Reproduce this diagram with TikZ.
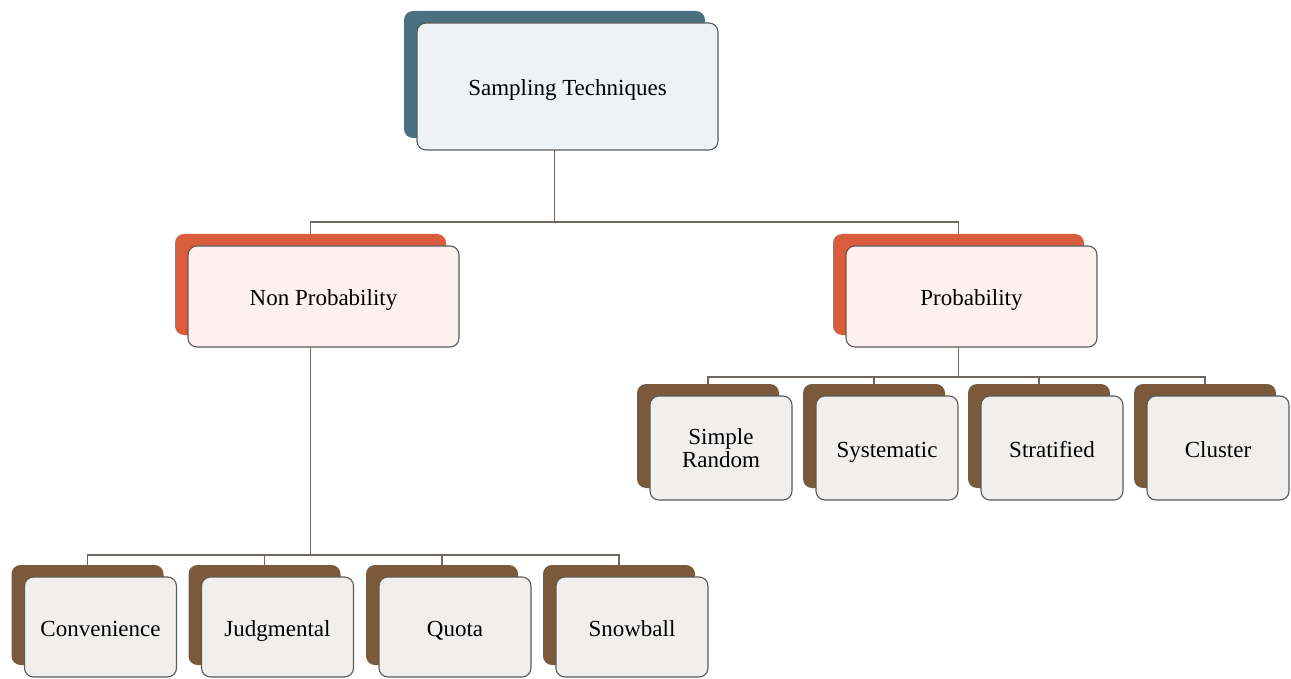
\documentclass[tikz,border=0pt]{standalone}
\usepackage{fontspec}
\setmainfont{Liberation Serif}
\definecolor{blueback}{HTML}{4B7082}
\definecolor{blueface}{HTML}{EEF2F5}
\definecolor{redback}{HTML}{D95C3D}
\definecolor{redface}{HTML}{FCF1F0}
\definecolor{brownback}{HTML}{7A5A3A}
\definecolor{brownface}{HTML}{F0EFEE}
\definecolor{bordergray}{HTML}{5A5A5A}
\definecolor{conncol}{HTML}{6E6863}
\newcommand\twobox[9][]{%
  \node[backbox, fill=#7, minimum width=#5pt, minimum height=#6pt] (#2b) at ({#3-13},{#4-12}) {};
  \node[facebox, fill=#8, minimum width=#5pt, minimum height=#6pt, #1] (#2) at (#3,#4) {#9};
}
\begin{document}
\begin{tikzpicture}[x=1pt,y=-1pt,
  backbox/.style={rectangle, rounded corners=9pt, inner sep=0pt, outer sep=0pt, draw=none},
  facebox/.style={rectangle, rounded corners=9pt, inner sep=0pt, outer sep=0pt, draw=bordergray, line width=1.1pt, align=center, font=\fontsize{23}{23}\selectfont, text height=22pt, text depth=4pt},
  twoline/.style={text height=, text depth=},
  conn/.style={draw=conncol, line width=1.5pt}]
\useasboundingbox (0,0) rectangle (1291,679);
% top
\twobox{top}{567.5}{86.5}{301}{127}{blueback}{blueface}{Sampling Techniques}
% level 2
\twobox{np}{323.5}{296.5}{271}{101}{redback}{redface}{Non Probability}
\twobox{pr}{971.5}{296.5}{251}{101}{redback}{redface}{Probability}
% probability children
\twobox[twoline]{sr}{721}{448}{142}{104}{brownback}{brownface}{Simple\\Random}
\twobox{sy}{887}{448}{142}{104}{brownback}{brownface}{Systematic}
\twobox{st}{1052}{448}{142}{104}{brownback}{brownface}{Stratified}
\twobox{cl}{1218}{448}{142}{104}{brownback}{brownface}{Cluster}
% non probability children
\twobox{cv}{100.5}{627}{152}{100}{brownback}{brownface}{Convenience}
\twobox{jd}{277.5}{627}{152}{100}{brownback}{brownface}{Judgmental}
\twobox{qu}{455}{627}{152}{100}{brownback}{brownface}{Quota}
\twobox{sn}{632}{627}{152}{100}{brownback}{brownface}{Snowball}
% junctions
\coordinate (j1) at (554.5,222);
\coordinate (j2) at (310.5,555);
\coordinate (j3) at (958.5,377);
% connectors
\draw[conn] (topb.center |- top.south) -- (j1);
\draw[conn] (npb.north) |- (j1) -| (prb.north);
\draw[conn] (npb.center |- np.south) -- (j2);
\draw[conn] (cvb.north) |- (j2) -| (snb.north);
\draw[conn] (jdb.north) -- (jdb.north |- j2);
\draw[conn] (qub.north) -- (qub.north |- j2);
\draw[conn] (prb.center |- pr.south) -- (j3);
\draw[conn] (srb.north) |- (j3) -| (clb.north);
\draw[conn] (syb.north) -- (syb.north |- j3);
\draw[conn] (stb.north) -- (stb.north |- j3);
\end{tikzpicture}
\end{document}
